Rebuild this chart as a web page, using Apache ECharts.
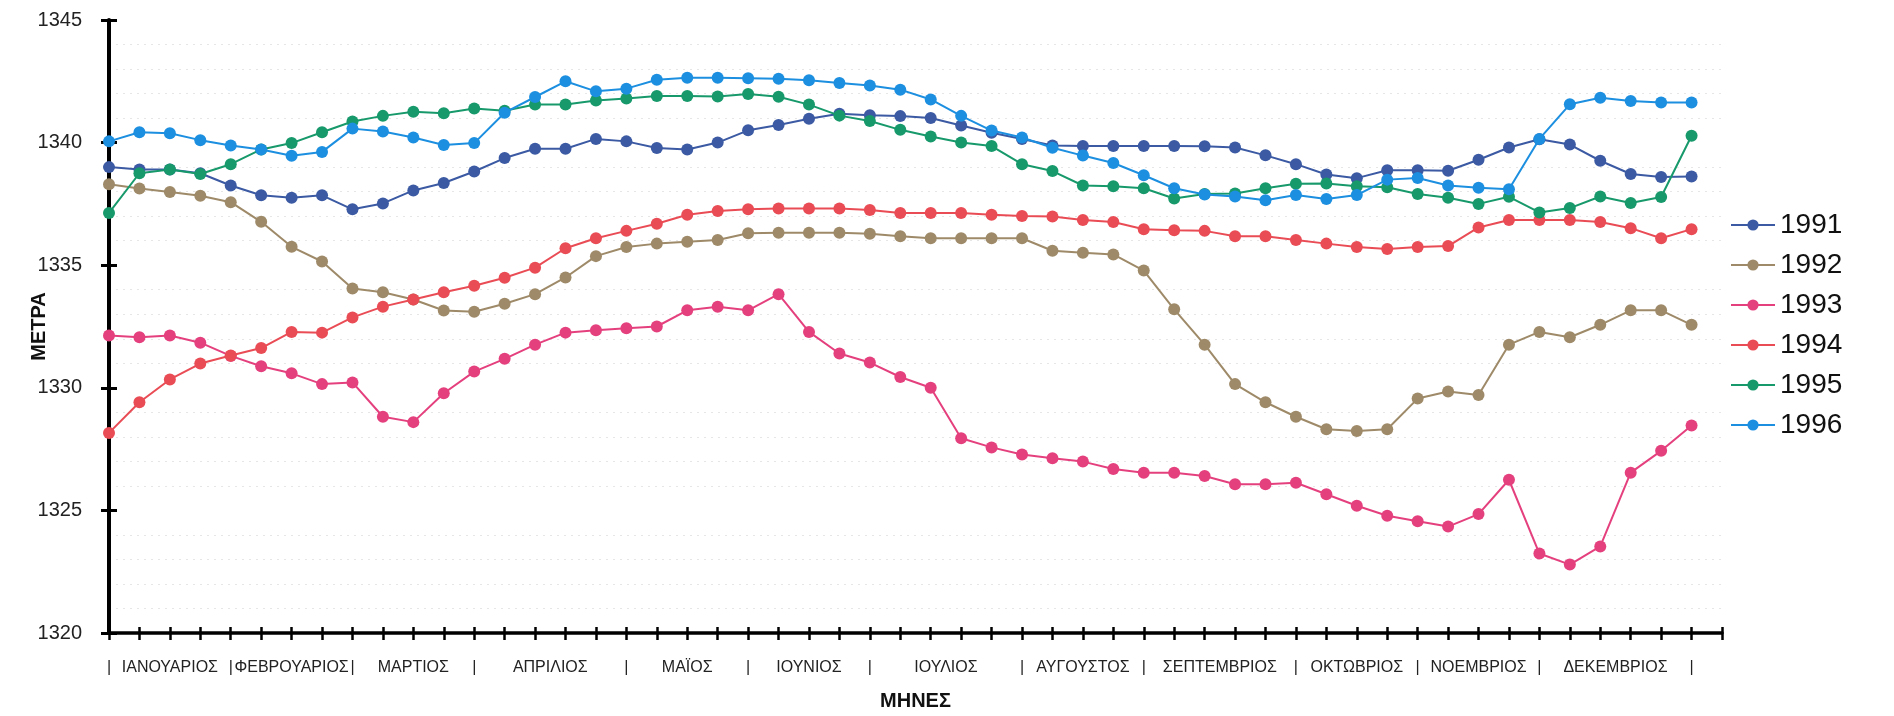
<!DOCTYPE html>
<html>
<head>
<meta charset="utf-8">
<script src="https://cdn.jsdelivr.net/npm/echarts@6/dist/echarts.min.js"></script>
<style>
html,body{margin:0;padding:0;background:#fff;}
#chart{width:1894px;height:716px;}
</style>
</head>
<body>
<div id="chart"></div>
<script>
// ---- data ----
const months = ['ΙΑΝΟΥΑΡΙΟΣ','ΦΕΒΡΟΥΑΡΙΟΣ','ΜΑΡΤΙΟΣ','ΑΠΡΙΛΙΟΣ','ΜΑΪΟΣ','ΙΟΥΝΙΟΣ','ΙΟΥΛΙΟΣ','ΑΥΓΟΥΣΤΟΣ','ΣΕΠΤΕΜΒΡΙΟΣ','ΟΚΤΩΒΡΙΟΣ','ΝΟΕΜΒΡΙΟΣ','ΔΕΚΕΜΒΡΙΟΣ'];
const weeksPerMonth = [4,4,4,5,4,4,5,4,5,4,4,5];
const years = ['1991','1992','1993','1994','1995','1996'];
const yTicks = [1320,1325,1330,1335,1340,1345];

const y1991 = [1339.0,1338.9,1338.9,1338.75,1338.25,1337.85,1337.75,1337.85,1337.28,1337.52,1338.05,1338.35,1338.82,1339.37,1339.75,1339.75,1340.15,1340.05,1339.78,1339.72,1340.0,1340.5,1340.72,1340.97,1341.18,1341.12,1341.08,1341.0,1340.7,1340.4,1340.15,1339.88,1339.86,1339.86,1339.86,1339.86,1339.85,1339.8,1339.48,1339.12,1338.7,1338.55,1338.87,1338.87,1338.85,1339.3,1339.8,1340.14,1339.92,1339.26,1338.72,1338.6,1338.62];
const y1992 = [1338.3,1338.13,1337.99,1337.83,1337.57,1336.77,1335.75,1335.15,1334.05,1333.9,1333.6,1333.15,1333.1,1333.43,1333.82,1334.5,1335.37,1335.74,1335.88,1335.96,1336.03,1336.3,1336.32,1336.32,1336.32,1336.28,1336.18,1336.1,1336.1,1336.1,1336.1,1335.59,1335.51,1335.44,1334.78,1333.2,1331.76,1330.15,1329.41,1328.82,1328.31,1328.24,1328.31,1329.56,1329.85,1329.71,1331.76,1332.28,1332.06,1332.57,1333.16,1333.16,1332.57];
const y1993 = [1332.13,1332.06,1332.13,1331.84,1331.3,1330.88,1330.59,1330.15,1330.22,1328.82,1328.6,1329.78,1330.66,1331.18,1331.76,1332.25,1332.35,1332.43,1332.5,1333.16,1333.31,1333.16,1333.82,1332.28,1331.4,1331.03,1330.44,1330.0,1327.94,1327.57,1327.28,1327.13,1326.99,1326.69,1326.54,1326.54,1326.4,1326.07,1326.07,1326.13,1325.66,1325.19,1324.78,1324.56,1324.34,1324.85,1326.25,1323.24,1322.79,1323.53,1326.54,1327.43,1328.46];
const y1994 = [1328.16,1329.41,1330.34,1330.99,1331.32,1331.62,1332.28,1332.25,1332.87,1333.31,1333.6,1333.9,1334.16,1334.49,1334.9,1335.69,1336.1,1336.4,1336.69,1337.06,1337.21,1337.28,1337.31,1337.31,1337.31,1337.25,1337.13,1337.13,1337.13,1337.06,1337.01,1336.99,1336.84,1336.76,1336.47,1336.43,1336.4,1336.18,1336.18,1336.03,1335.88,1335.74,1335.66,1335.74,1335.78,1336.54,1336.84,1336.84,1336.84,1336.76,1336.51,1336.1,1336.47];
const y1995 = [1337.13,1338.75,1338.9,1338.72,1339.12,1339.72,1339.98,1340.42,1340.86,1341.09,1341.26,1341.2,1341.39,1341.3,1341.55,1341.55,1341.72,1341.8,1341.9,1341.9,1341.88,1341.98,1341.87,1341.55,1341.1,1340.88,1340.52,1340.25,1340.0,1339.86,1339.12,1338.84,1338.25,1338.22,1338.14,1337.72,1337.9,1337.92,1338.14,1338.32,1338.33,1338.22,1338.18,1337.9,1337.75,1337.5,1337.79,1337.15,1337.33,1337.8,1337.54,1337.78,1340.28];
const y1996 = [1340.05,1340.42,1340.38,1340.1,1339.88,1339.72,1339.46,1339.62,1340.57,1340.45,1340.21,1339.9,1339.98,1341.22,1341.86,1342.5,1342.09,1342.2,1342.56,1342.64,1342.64,1342.62,1342.6,1342.54,1342.43,1342.33,1342.16,1341.76,1341.09,1340.49,1340.21,1339.79,1339.47,1339.17,1338.67,1338.14,1337.88,1337.8,1337.65,1337.86,1337.7,1337.86,1338.49,1338.56,1338.25,1338.16,1338.1,1340.15,1341.56,1341.83,1341.7,1341.64,1341.64];

const seriesValues = [y1991,y1992,y1993,y1994,y1995,y1996];
const colors = ['#3b5aa3','#9e8a68','#e5407e','#ea4c55','#17996b','#1c8fe0'];

// ---- month label lookup (boundaries + centres) ----
const bounds = [0];
weeksPerMonth.forEach(w => bounds.push(bounds[bounds.length-1] + w));
const monthLabel = {};
bounds.forEach(b => { monthLabel[String(b)] = '|'; });
months.forEach((m,k) => { monthLabel[String((bounds[k]+bounds[k+1])/2)] = m; });

const nSlots = y1991.length; // axis extends one slot past last point
const FONT = 'Liberation Sans, Arial, sans-serif';

const chart = echarts.init(document.getElementById('chart'), null, {renderer:'canvas'});
const baseX = {type:'value', min:0, max:nSlots, interval:1, gridIndex:0, position:'bottom', splitLine:{show:false}};
chart.setOption({
  animation:false,
  backgroundColor:'#ffffff',
  grid:{left:109, right:172, top:20, bottom:81, containLabel:false},
  legend:{
    orient:'vertical', left:1725, top:206, itemWidth:44, itemHeight:14, itemGap:12,
    textStyle:{fontSize:28, color:'#111', fontFamily:FONT},
    data: years
  },
  xAxis:[
    Object.assign({}, baseX, {
      axisLine:{show:true, onZero:false, lineStyle:{color:'#000', width:3.5}},
      axisTick:{show:true, length:7, lineStyle:{color:'#000', width:2.5}},
      axisLabel:{show:false}
    }),
    Object.assign({}, baseX, {
      axisLine:{show:false, onZero:false},
      axisTick:{show:true, inside:true, length:6, lineStyle:{color:'#000', width:2.5}},
      axisLabel:{show:false}
    }),
    {
      type:'value', min:0, max:nSlots, interval:0.5, position:'bottom', gridIndex:0,
      axisLine:{show:false, onZero:false}, axisTick:{show:false}, splitLine:{show:false},
      axisLabel:{show:true, margin:27, fontSize:16, color:'#222', fontFamily:FONT,
        formatter: v => (monthLabel[String(v)] || '')},
      name:'ΜΗΝΕΣ', nameLocation:'middle', nameGap:58,
      nameTextStyle:{fontSize:20, fontWeight:'bold', color:'#111', fontFamily:FONT}
    }
  ],
  yAxis:[
    {
      type:'value', min:yTicks[0], max:yTicks[yTicks.length-1], interval:5,
      axisLine:{show:true, onZero:false, lineStyle:{color:'#000', width:4}},
      axisTick:{show:true, length:8, lineStyle:{color:'#000', width:3}},
      axisLabel:{margin:27, fontSize:20, color:'#222', fontFamily:FONT, formatter: v => String(v)},
      splitLine:{show:false},
      minorTick:{show:false, splitNumber:5},
      minorSplitLine:{show:true, lineStyle:{color:'#e6e6e6', type:[2,5], width:1}},
      name:'ΜΕΤΡΑ', nameLocation:'middle', nameGap:60, nameRotate:90, nameMoveOverlap:false,
      nameTextStyle:{fontSize:20, fontWeight:'bold', color:'#111', fontFamily:FONT}
    },
    {
      type:'value', min:yTicks[0], max:yTicks[yTicks.length-1], interval:5, position:'left',
      axisLine:{show:false, onZero:false},
      axisTick:{show:true, inside:true, length:8, lineStyle:{color:'#000', width:3}},
      axisLabel:{show:false}, splitLine:{show:false}
    }
  ],
  series: years.map((yr, k) => ({
    name: yr, type:'line', xAxisIndex:0, yAxisIndex:0,
    data: seriesValues[k].map((v,i) => [i, v]),
    symbol:'circle', symbolSize:12, showSymbol:true,
    lineStyle:{color:colors[k], width:2},
    itemStyle:{color:colors[k], borderColor:colors[k], borderWidth:0},
    emphasis:{disabled:true},
    z: 2 + k
  }))
});
</script>
</body>
</html>
